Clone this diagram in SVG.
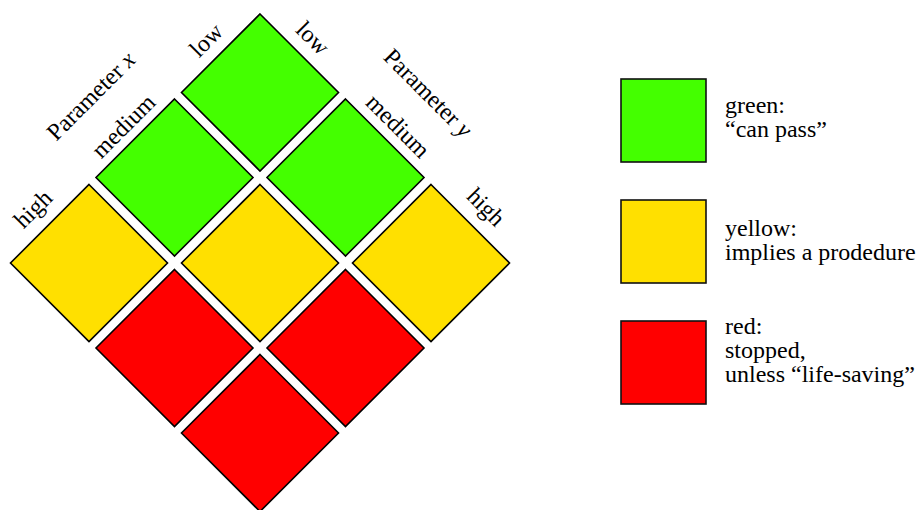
<svg xmlns="http://www.w3.org/2000/svg" width="922" height="510" viewBox="0 0 922 510">
<style>
.cell{stroke:#000;stroke-width:1.6;stroke-linejoin:miter}
.g{fill:#44FF00}.y{fill:#FFE000}.r{fill:#FF0000}
.lg{stroke:#111;stroke-width:1.6}
text{font-family:"Liberation Serif","Times New Roman",serif;font-size:24px;fill:#000}
.lab{text-anchor:middle}
</style>
<rect width="922" height="510" fill="#fff"/>
<g id="connectors"></g>
<g id="grid">
<g id="c-low-low"><polygon class="cell g" points="260,14 338.5,92.5 260,171 181.5,92.5"/></g>
<g id="c-med-low"><polygon class="cell g" points="174.5,99 253,177.5 174.5,256 96,177.5"/></g>
<g id="c-low-med"><polygon class="cell g" points="345.5,99 424,177.5 345.5,256 267,177.5"/></g>
<g id="c-high-low"><polygon class="cell y" points="89,184.5 167.5,263 89,341.5 10.5,263"/></g>
<g id="c-med-med"><polygon class="cell y" points="260,184.5 338.5,263 260,341.5 181.5,263"/></g>
<g id="c-low-high"><polygon class="cell y" points="431,184.5 509.5,263 431,341.5 352.5,263"/></g>
<g id="c-high-med"><polygon class="cell r" points="174.5,269.5 253,348 174.5,426.5 96,348"/></g>
<g id="c-med-high"><polygon class="cell r" points="345.5,269.5 424,348 345.5,426.5 267,348"/></g>
<g id="c-high-high"><polygon class="cell r" points="260,354.5 338.5,433 260,511.5 181.5,433"/></g>
</g>
<g id="labels-x">
<text class="lab" transform="translate(206,40) rotate(-45)" y="8">low</text>
<text class="lab" transform="translate(123.5,126) rotate(-45)" y="8">medium</text>
<text class="lab" transform="translate(35,211) rotate(-45)" y="5">high</text>
<text class="lab" transform="translate(93,98) rotate(-45)" y="5">Parameter <tspan font-style="italic">x</tspan></text>
</g>
<g id="labels-y">
<text class="lab" transform="translate(313,38) rotate(45)" y="8">low</text>
<text class="lab" transform="translate(398,126) rotate(45)" y="8">medium</text>
<text class="lab" transform="translate(484,209) rotate(45)" y="5">high</text>
<text class="lab" transform="translate(426,95) rotate(45)" y="5">Parameter <tspan font-style="italic">y</tspan></text>
</g>
<g id="legend-green">
<rect class="lg g" x="621" y="79" width="85" height="83"/>
<text x="725" y="113">green:</text>
<text x="725" y="137">“can pass”</text>
</g>
<g id="legend-yellow">
<rect class="lg y" x="621" y="200" width="85" height="83"/>
<text x="725" y="236">yellow:</text>
<text x="725" y="260">implies a prodedure</text>
</g>
<g id="legend-red">
<rect class="lg r" x="621" y="321" width="85" height="83"/>
<text x="725" y="334">red:</text>
<text x="725" y="358">stopped,</text>
<text x="725" y="382">unless “life-saving”</text>
</g>
</svg>
